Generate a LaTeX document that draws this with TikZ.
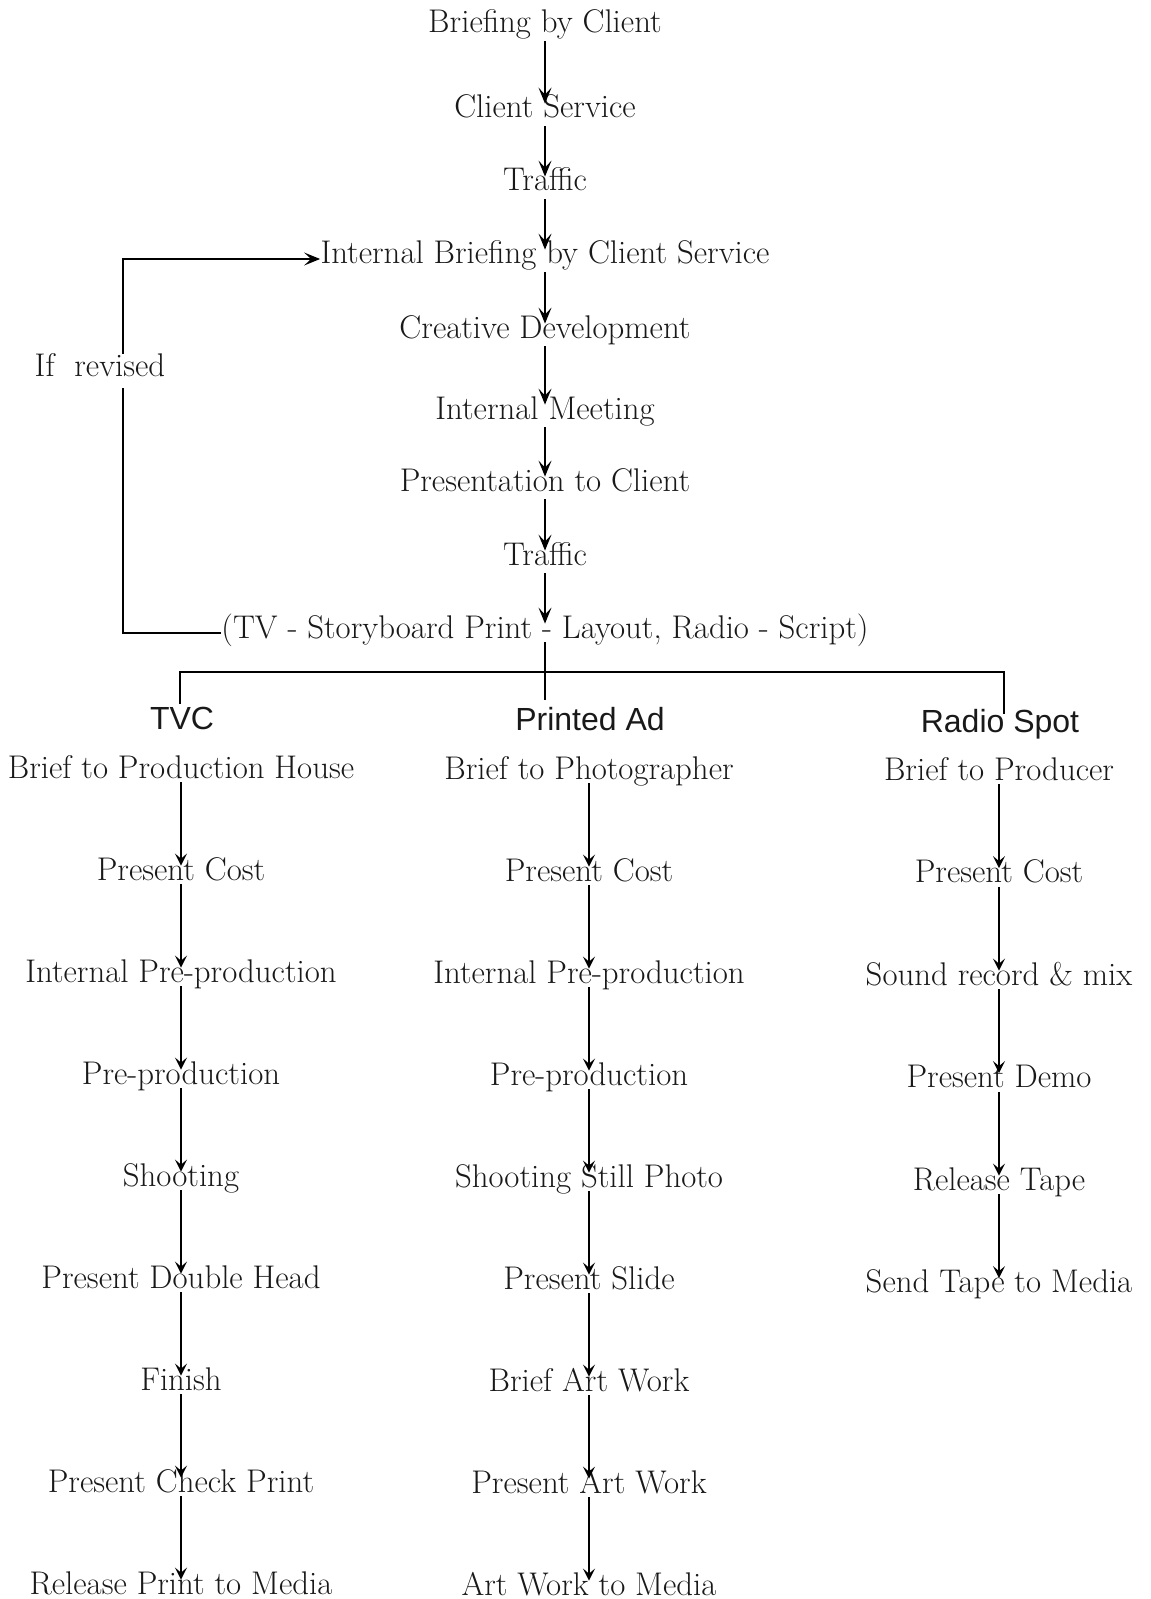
\documentclass[tikz,border=0pt]{standalone}
\usepackage{fontspec}
\newfontfamily\headfont{Liberation Sans}
\usetikzlibrary{arrows.meta}

\tikzset{
    stage/.style={inner sep=0pt, text height=0.7em, text depth=0.2em, font=\fontsize{16.4}{19}\selectfont, text=black!90},
    head/.style={inner sep=0pt, text height=0.72em, text depth=0.22em, font=\headfont\fontsize{16}{19}\selectfont, text=black!90},
    flow/.style={draw, line width=0.8pt, -{Stealth[length=8pt, width=6.5pt, inset=3.5pt]}},
    chain/.style={draw, line width=0.9pt, -{Stealth[length=6pt, width=6pt, inset=2.5pt]}},
}

\begin{document}
\begin{tikzpicture}[x=0.5pt, y=-0.5pt]
        \useasboundingbox (0,0) rectangle (1150,1599);
        % main stream
        \node[stage] (brief) at (545,28) {Briefing by Client};
        \node[stage] (cserv) at (545,113) {Client Service};
        \node[stage] (traf1) at (545,186) {Traffic};
        \node[stage] (ibrief) at (545,259) {Internal Briefing by Client Service};
        \node[stage] (creat) at (545,333) {Creative Development};
        \node[stage] (imeet) at (545,414) {Internal Meeting};
        \node[stage] (pres) at (545,486) {Presentation to Client};
        \node[stage] (traf2) at (545,560) {Traffic};
        \node[stage] (media) at (545,633) {(TV - Storyboard Print - Layout, Radio - Script)};
        \foreach \a/\b in {brief/cserv, cserv/traf1, traf1/ibrief, ibrief/creat, creat/imeet, imeet/pres, pres/traf2, traf2/media}
        {
            \path[flow, shorten <=2pt] (\a.south) -- (\b.north);
        }
        % revision loop
        \coordinate (loopT) at (123,259);
        \path[flow] (media.west) -| (loopT) -- (ibrief.west);
        \node[stage, fill=white, inner xsep=1pt, inner ysep=4pt] (rev) at (100,371) {If~~revised};
        % split into media
        \coordinate (split) at (545,672);
        \coordinate (midend) at (545,700);
        \coordinate (dropL) at (180,704);
        \coordinate (dropR) at (1004,714);
        \path[draw, line width=0.9pt] (media.south) -- (midend);
        \path[draw, line width=1.3pt] (dropL) |- (split) -| (dropR);
        \node[head] (tvc) at (182,724) {TVC};
        \node[head] (pad) at (590,725) {Printed Ad};
        \node[head] (rad) at (1000,727) {Radio Spot};
        % TVC
        \foreach \txt [count=\i] in {Brief to Production House, Present Cost, Internal Pre-production, Pre-production, Shooting, Present Double Head, Finish, Present Check Print, Release Print to Media}
        {
            \node[stage] (tvc\i) at (181,{773+(\i-1)*102}) {\txt};
        }
        % printed ad
        \foreach \txt [count=\i] in {Brief to Photographer, Present Cost, Internal Pre-production, Pre-production, Shooting Still Photo, Present Slide, Brief Art Work, Present Art Work, Art Work to Media}
        {
            \node[stage] (pad\i) at (589,{774+(\i-1)*102}) {\txt};
        }
        % radio spot
        \foreach \txt [count=\i] in {Brief to Producer, Present Cost, Sound record \& mix, Present Demo, Release Tape, Send Tape to Media}
        {
            \node[stage] (rad\i) at (999,{775+(\i-1)*102.5}) {\txt};
        }
        \foreach \i [count=\j from 2] in {1,...,8}
        {
            \path[chain] (tvc\i.south) -- (tvc\j.north);
            \path[chain] (pad\i.south) -- (pad\j.north);
        }
        \foreach \i [count=\j from 2] in {1,...,5}
        {
            \path[chain] (rad\i.south) -- (rad\j.north);
        }
    \end{tikzpicture}
\end{document}
